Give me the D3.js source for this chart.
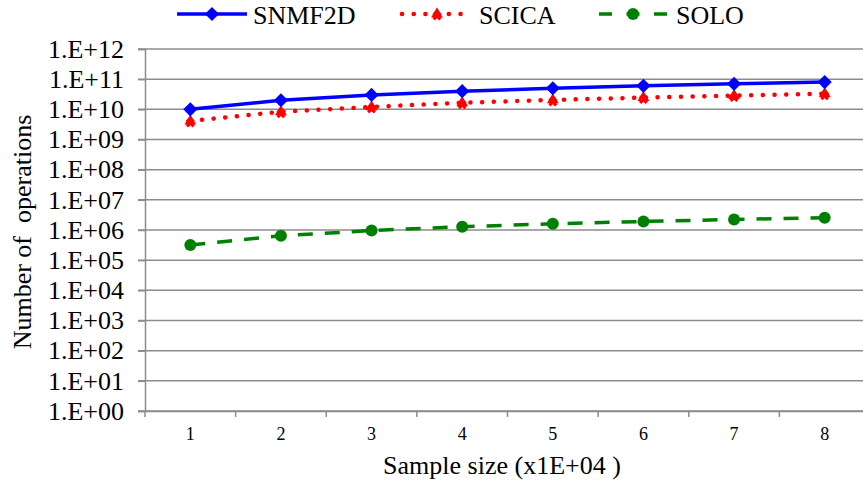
<!DOCTYPE html>
<html>
<head>
<meta charset="utf-8">
<script src="https://cdn.jsdelivr.net/npm/d3@7"></script>
<style>
html,body{margin:0;padding:0;background:#fff;overflow:hidden;}
svg{display:block;}
svg text{font-family:"Liberation Serif","Times New Roman",Times,serif !important;}
</style>
</head>
<body>
<svg id="chart" width="863" height="486"></svg>
<script>
const categories = [1, 2, 3, 4, 5, 6, 7, 8];
const snmf2d = [1.0e10, 2.0e10, 3.0e10, 4.0e10, 5.0e10, 6.0e10, 7.0e10, 8.0e10];
const scica  = [4.1e9, 8.3e9, 1.2e10, 1.65e10, 2.05e10, 2.45e10, 2.85e10, 3.3e10];
const solo   = [3.2e5, 6.4e5, 9.6e5, 1.28e6, 1.6e6, 1.92e6, 2.24e6, 2.56e6];
const yTickValues = [1e0,1e1,1e2,1e3,1e4,1e5,1e6,1e7,1e8,1e9,1e10,1e11,1e12];
const yTickLabels = ["1.E+00","1.E+01","1.E+02","1.E+03","1.E+04","1.E+05","1.E+06","1.E+07","1.E+08","1.E+09","1.E+10","1.E+11","1.E+12"];
const seriesNames = ["SNMF2D", "SCICA", "SOLO"];

(function () {
const svg = d3.select("#chart");
const pLeft = 145, pRight = 870, pTop = 49, pBottom = 411;
const grid = "#8c8c8c";

const x = d3.scaleBand().domain(categories).range([pLeft, pRight]);
const xc = d => x(d) + x.bandwidth() / 2;
const y = d3.scaleLog().domain([1, 1e12]).range([pBottom, pTop]);

svg.append("g").selectAll("line").data(yTickValues).join("line")
  .attr("x1", 138).attr("x2", 863)
  .attr("y1", d => y(d)).attr("y2", d => y(d))
  .attr("stroke", grid).attr("stroke-width", 1.5);

const yAxis = svg.append("g").attr("transform", `translate(${pLeft},0)`)
  .call(d3.axisLeft(y).tickValues(yTickValues).tickSize(7).tickPadding(14)
    .tickFormat((d, i) => yTickLabels[i]));
yAxis.attr("font-family", null);
yAxis.select(".domain").attr("stroke", grid).attr("stroke-width", 1.5);
yAxis.selectAll(".tick line").attr("stroke", grid).attr("stroke-width", 1.5);
yAxis.selectAll(".tick text").attr("font-size", 26).attr("fill", "#000");

const xAxis = svg.append("g").attr("transform", `translate(0,${pBottom})`)
  .call(d3.axisBottom(x).tickSize(0).tickPadding(16));
xAxis.attr("font-family", null);
xAxis.select(".domain").attr("stroke", grid).attr("stroke-width", 1.5);
xAxis.selectAll(".tick text").attr("font-size", 18).attr("fill", "#000");
const bounds = categories.map(c => x(c)).concat([x(categories[categories.length-1]) + x.bandwidth()]);
svg.append("g").selectAll("line").data(bounds).join("line")
  .attr("x1", d => d).attr("x2", d => d).attr("y1", pBottom).attr("y2", pBottom + 6)
  .attr("stroke", grid).attr("stroke-width", 1.5);

svg.append("text").attr("x", 502).attr("y", 474)
  .attr("text-anchor", "middle").attr("font-size", 26).text("Sample size (x1E+04 )");
svg.append("text").attr("transform", "translate(31,232) rotate(-90)")
  .attr("text-anchor", "middle").attr("font-size", 26).style("white-space", "pre")
  .attr("xml:space", "preserve").text("Number of  operations");

const line = d3.line().x((d, i) => xc(categories[i])).y(d => y(d));

svg.append("path").datum(solo).attr("d", line).attr("fill", "none")
  .attr("stroke", "#008000").attr("stroke-width", 3.5).attr("stroke-dasharray", "15 12");
svg.append("path").datum(scica).attr("d", line).attr("fill", "none")
  .attr("stroke", "#ff0000").attr("stroke-width", 4.5).attr("stroke-linecap", "round")
  .attr("stroke-dasharray", "0.1 11.6");
svg.append("path").datum(snmf2d).attr("d", line).attr("fill", "none")
  .attr("stroke", "#0000ff").attr("stroke-width", 3.5);

const diamond = d3.symbol().type(d3.symbolSquare).size(100);
const tri = d3.symbol().type(d3.symbolTriangle).size(60);
const star = d3.symbol().type(d3.symbolCross).size(50);

function drawMarkers(data, kind) {
  const g = svg.append("g");
  data.forEach((v, i) => {
    const px = xc(categories[i]), py = y(v);
    if (kind === 0) {
      g.append("path").attr("d", diamond).attr("transform", `translate(${px},${py}) rotate(45)`)
        .attr("fill", "#0000ff");
    } else if (kind === 1) {
      g.append("path").attr("d", tri).attr("transform", `translate(${px},${py})`).attr("fill", "#ff0000");
      g.append("path").attr("d", star).attr("transform", `translate(${px},${py+2}) rotate(45)`).attr("fill", "#ff0000");
    } else {
      g.append("circle").attr("cx", px).attr("cy", py).attr("r", 6).attr("fill", "#008000");
    }
  });
}
drawMarkers(solo, 2);
drawMarkers(scica, 1);
drawMarkers(snmf2d, 0);

const ly = 14;
const lg = svg.append("g");
lg.append("line").attr("x1", 177).attr("x2", 247).attr("y1", ly).attr("y2", ly)
  .attr("stroke", "#0000ff").attr("stroke-width", 3.5);
lg.append("path").attr("d", diamond).attr("transform", `translate(212,${ly}) rotate(45)`).attr("fill", "#0000ff");
lg.append("text").attr("x", 253).attr("y", 24).attr("font-size", 26).text(seriesNames[0]);
lg.append("line").attr("x1", 402).attr("x2", 464).attr("y1", ly).attr("y2", ly)
  .attr("stroke", "#ff0000").attr("stroke-width", 4.5).attr("stroke-linecap", "round")
  .attr("stroke-dasharray", "0.1 11.6");
lg.append("path").attr("d", tri).attr("transform", `translate(437,${ly})`).attr("fill", "#ff0000");
lg.append("path").attr("d", star).attr("transform", `translate(437,${ly+2}) rotate(45)`).attr("fill", "#ff0000");
lg.append("text").attr("x", 479).attr("y", 24).attr("font-size", 26).text(seriesNames[1]);
lg.append("line").attr("x1", 599).attr("x2", 667).attr("y1", ly).attr("y2", ly)
  .attr("stroke", "#008000").attr("stroke-width", 3.5).attr("stroke-dasharray", "13 14.5");
lg.append("circle").attr("cx", 633).attr("cy", ly).attr("r", 6).attr("fill", "#008000");
lg.append("text").attr("x", 676).attr("y", 24).attr("font-size", 26).text(seriesNames[2]);
})();
</script>
</body>
</html>
